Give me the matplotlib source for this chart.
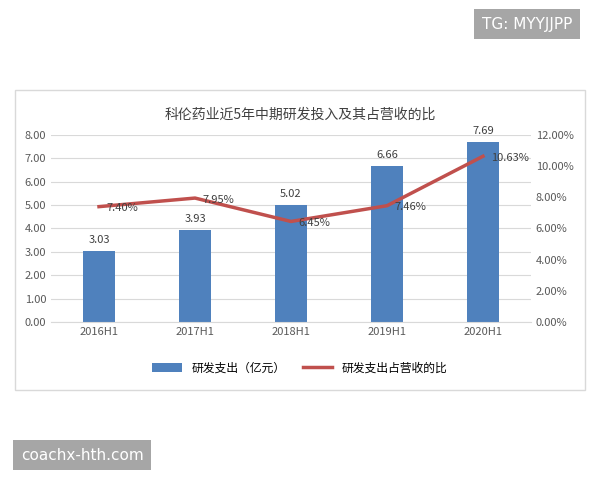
import matplotlib.pyplot as plt
from matplotlib.patches import Rectangle

plt.rcParams['font.family'] = ['Noto Sans CJK SC', 'DejaVu Sans']

categories = ['2016H1', '2017H1', '2018H1', '2019H1', '2020H1']
rd_spend = [3.03, 3.93, 5.02, 6.66, 7.69]
rd_ratio = [7.40, 7.95, 6.45, 7.46, 10.63]

bar_color = '#4f81bd'
line_color = '#c0504d'

fig = plt.figure(figsize=(6, 4.8), dpi=100)
fig.patches.append(Rectangle((15/600, 1-390/480), 570/600, 300/480, transform=fig.transFigure,
                             fill=False, edgecolor='#d9d9d9', lw=1))

ax = fig.add_axes([0.085, 0.329, 0.8, 0.39])
x = range(len(categories))
ax.bar(x, rd_spend, width=0.33, color=bar_color, label='研发支出（亿元）')
for i, v in enumerate(rd_spend):
    ax.text(i, v + 0.25, f'{v:.2f}', ha='center', va='bottom', fontsize=8, color='#404040')
ax.set_ylim(0, 8)
ax.set_yticks([i for i in range(9)])
ax.set_yticklabels([f'{i:.2f}' for i in range(9)])
ax.set_xticks(list(x))
ax.set_xticklabels(categories)
ax.set_xlim(-0.5, 4.5)
ax.yaxis.grid(True, color='#d9d9d9', lw=0.8)
ax.set_axisbelow(True)
for s in ['top', 'right', 'left']:
    ax.spines[s].set_visible(False)
ax.spines['bottom'].set_color('#d9d9d9')
ax.tick_params(length=0, labelsize=8, colors='#595959')

ax2 = ax.twinx()
ax2.plot(x, rd_ratio, color=line_color, lw=2.5, label='研发支出占营收的比')
for i, v in enumerate(rd_ratio):
    ax2.text(i + 0.08, v - 0.1, f'{v:.2f}%', ha='left', va='center', fontsize=8, color='#404040')
ax2.set_ylim(0, 12)
ax2.set_yticks(range(0, 13, 2))
ax2.set_yticklabels([f'{t:.2f}%' for t in range(0, 13, 2)])
for s in ax2.spines.values():
    s.set_visible(False)
ax2.tick_params(length=0, labelsize=8, colors='#595959')

fig.text(0.5, 1-115/480, '科伦药业近5年中期研发投入及其占营收的比', ha='center', va='center',
         fontsize=10, color='#404040')
h1, l1 = ax.get_legend_handles_labels()
h2, l2 = ax2.get_legend_handles_labels()
fig.legend(h1 + h2, l1 + l2, loc='center', bbox_to_anchor=(0.5, 1-368/480), ncol=2,
           frameon=False, fontsize=8.5, handlelength=2.5, columnspacing=1.5)

fig.text(527/600, 1-24/480, 'TG: MYYJJPP', ha='center', va='center', fontsize=11, color='white',
         family=['DejaVu Sans'],
         bbox=dict(boxstyle='square,pad=0.5', facecolor='#a6a6a6', edgecolor='none'))
fig.text(82/600, 1-455/480, 'coachx-hth.com', ha='center', va='center', fontsize=11, color='white',
         family=['DejaVu Sans'],
         bbox=dict(boxstyle='square,pad=0.5', facecolor='#a6a6a6', edgecolor='none'))

fig.savefig('out.png', dpi=100, facecolor='white')
